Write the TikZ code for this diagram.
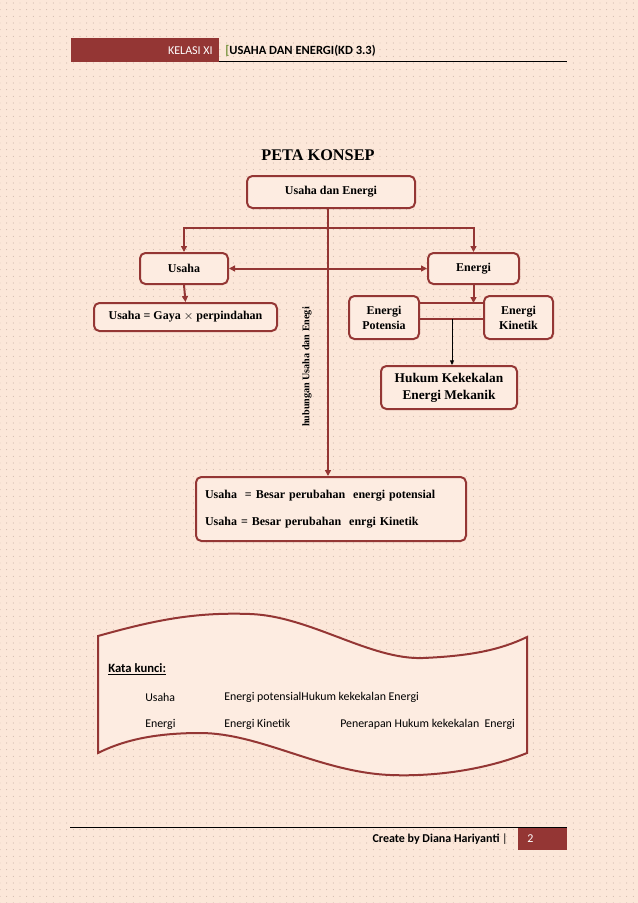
\documentclass[tikz,border=0pt]{standalone}
\usepackage{fontspec}
\setmainfont{Liberation Serif}
\newfontfamily\calibri{Carlito}
\usetikzlibrary{arrows.meta,patterns.meta}

\definecolor{kdred}{RGB}{148,54,52}
\definecolor{pagebg}{RGB}{252,231,217}
\definecolor{boxbg}{RGB}{253,236,225}
\definecolor{dotgrey}{RGB}{186,162,150}
\definecolor{leafgreen}{RGB}{118,146,60}

\tikzset{
  conbox/.style={draw=kdred,fill=boxbg,line width=1.5pt,rounded corners=4pt,align=center,inner sep=1pt,font=\bfseries\fontsize{9}{11.25}\selectfont},
  conarrow/.style={draw=kdred,line width=1.5pt,>={Triangle[length=4.5pt,width=4.5pt]},->},
  keyword/.style={anchor=west,inner sep=0pt,font=\calibri\fontsize{8.9}{10}\selectfont},
}

\begin{document}
\begin{tikzpicture}[x=0.75pt,y=0.75pt,yscale=-1,xscale=1]
\useasboundingbox (0,0) rectangle (638,903);

%Shape: Page background
\fill [pagebg] (0,0) rectangle (638,903);
\fill [pattern={Dots[distance=5pt,radius=0.35pt]},pattern color=dotgrey] (0,0) rectangle (638,903);

%Shape: Header bar
\fill [kdred] (71,38) rectangle (219,62);
%Straight Lines
\draw [line width=0.8pt] (219,61.5) -- (567,61.5);
% Text Node
\draw (213,50.5) node [anchor=east,inner sep=0pt,text=white,font=\calibri\fontsize{9}{11}\selectfont] (kelas) {KELASI XI};
% Text Node
\draw (225,50.5) node [anchor=west,inner sep=0pt,font=\calibri\bfseries\fontsize{9.4}{11}\selectfont] (judul) {\textcolor{leafgreen}{[}USAHA DAN ENERGI(KD 3.3)};

% Text Node
\draw (318,155) node [font=\bfseries\fontsize{12.2}{14}\selectfont] (title) {PETA KONSEP};

%Shape: Rounded Rect
\draw (331,192) node [conbox,minimum width=126pt,minimum height=24pt] (ue) {Usaha dan Energi};
\draw (184,268.5) node [conbox,minimum width=66pt,minimum height=23.25pt] (usaha) {Usaha};
\draw (473.5,268.5) node [conbox,minimum width=68.25pt,minimum height=23.25pt] (energi) {Energi};
\draw (185.5,317) node [conbox,minimum width=137.25pt,minimum height=21pt] (gaya) {Usaha = Gaya $\times$ perpindahan};
\draw (384,317.5) node [conbox,minimum width=52.5pt,minimum height=32.25pt] (ep) {Energi\\Potensia};
\draw (518.5,317.5) node [conbox,minimum width=51.75pt,minimum height=32.25pt] (ek) {Energi\\Kinetik};
\draw (449,387.5) node [conbox,minimum width=102pt,minimum height=32.25pt,font=\bfseries\fontsize{10}{12.75}\selectfont] (hukum) {Hukum Kekekalan\\Energi Mekanik};
\draw (331,509) node [conbox,minimum width=202.5pt,minimum height=48pt,text width=189pt,align=left] (besar) {Usaha\ \ = Besar perubahan\ \ energi potensial\\[8.5pt]Usaha = Besar perubahan\ \ enrgi Kinetik};

% Text Node
\draw (307,367) node [rotate=90,inner sep=0pt,font=\bfseries\fontsize{7.6}{9}\selectfont] (hubungan) {hubungan Usaha dan Enegi};

%Straight Lines
\coordinate (split) at (328,228);
\coordinate (bandtop) at (452,303);
\coordinate (bandlow) at (452,319);
\draw [conarrow] (ue.south -| split) -- (besar.north -| split);
\draw [conarrow] (split) -| (usaha.north);
\draw [conarrow] (split) -| (energi.north);
\draw [conarrow,<->] (usaha.east) -- (energi.west);
\draw [conarrow] (usaha.south) -- (gaya.north);
\draw [draw=kdred,line width=1.5pt] (ep.east |- bandtop) -- (ek.west |- bandtop);
\draw [draw=kdred,line width=1.5pt] (ep.east |- bandlow) -- (ek.west |- bandlow);
\draw [conarrow] (energi.south) -- (energi.south |- bandtop);
\draw [line width=0.7pt,-{Triangle[length=3.5pt,width=3pt]}] (bandlow) -- (hukum.north -| bandlow);

%Shape: Wave
\draw [draw=kdred,fill=boxbg,line width=1.5pt] (98,636) .. controls (155,620) and (195,612) .. (250,614) .. controls (310,616) and (370,660) .. (423,658) .. controls (470,656) and (500,650) .. (527,637) -- (527,753) .. controls (490,768) and (440,777) .. (390,775) .. controls (320,772) and (260,733) .. (200,733) .. controls (150,733) and (120,742) .. (98,753) -- cycle;

% Text Node
\draw (108,669) node [keyword,font=\calibri\bfseries\fontsize{9.5}{11}\selectfont] (kunci) {\underline{Kata kunci:}};
\draw (145,697) node [keyword] (kw1) {Usaha};
\draw (224,697) node [keyword] (kw2) {Energi potensialHukum kekekalan Energi};
\draw (145,724) node [keyword] (kw3) {Energi};
\draw (224,724) node [keyword] (kw4) {Energi Kinetik};
\draw (340,724) node [keyword] (kw5) {Penerapan Hukum kekekalan\ \ Energi};

%Straight Lines
\draw [line width=0.8pt] (70,827.5) -- (567,827.5);
%Shape: Page number box
\fill [kdred] (518,828) rectangle (567,850);
% Text Node
\draw (508,839) node [anchor=east,inner sep=0pt,font=\calibri\fontsize{9}{11}\selectfont] (pembuat) {\textbf{Create by Diana Hariyanti} |};
\draw (527,839) node [anchor=west,inner sep=0pt,text=white,font=\calibri\fontsize{9}{11}\selectfont] (halaman) {2};

\end{tikzpicture}
\end{document}
